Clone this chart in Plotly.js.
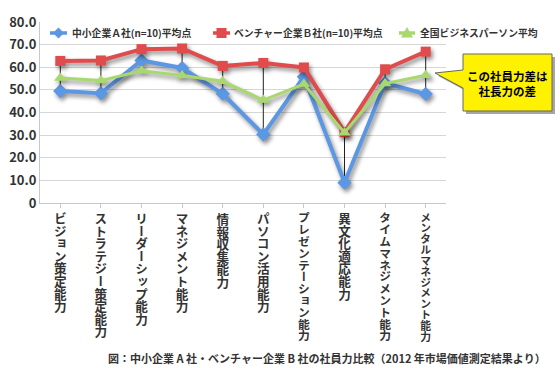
<!DOCTYPE html>
<html>
<head>
<meta charset="utf-8">
<script src="https://cdn.plot.ly/plotly-3.0.1.min.js"></script>
<style>
html,body{margin:0;padding:0;background:#fff;}
#chart{width:560px;height:368px;}
.js-plotly-plot .scatterlayer .trace.shadowed{filter:drop-shadow(2px 3px 2px rgba(0,0,0,0.45));}
</style>
</head>
<body>
<div id="chart"></div>
<script>
const categories = ["ビジョン策定能力","ストラテジー策定能力","リーダーシップ能力","マネジメント能力","情報収集能力","パソコン活用能力","プレゼンテーション能力","異文化適応能力","タイムマネジメント能力","メンタルマネジメント能力"];
const companyA = [49.5, 48.5, 63.0, 59.7, 48.3, 30.3, 55.8, 9.0, 53.0, 48.2];
const ventureB = [62.8, 63.0, 68.0, 68.3, 60.6, 61.9, 59.9, 31.3, 59.1, 66.9];
const national = [55.2, 54.1, 58.4, 56.4, 53.8, 45.5, 52.6, 31.1, 52.8, 56.5];
const seriesNames = ["中小企業Ａ社(n=10)平均点","ベンチャー企業Ｂ社(n=10)平均点","全国ビジネスパーソン平均"];
const yTickVals = [0,10,20,30,40,50,60,70,80];
const yTickText = ["0","10.0","20.0","30.0","40.0","50.0","60.0","70.0","80.0"];
const calloutText = "この社員力差は<br>社長力の差";
const captionText = "図：中小企業 A 社・ベンチャー企業 B 社の社員力比較（2012 年市場価値測定結果より）";

const COLORS = ['#5B97E2', '#E04B4B', '#A9D86F'];
const FONT = "'Noto Sans CJK JP', 'Noto Sans', sans-serif";
const idx = categories.map((c,i)=>i);

function px2x(p){ return (p-40)/406; }
function py2y(p){ return (203-p)/181; }
function pathFromPx(pts){
  return 'M ' + pts.map(p => px2x(p[0]).toFixed(4)+','+py2y(p[1]).toFixed(4)).join(' L ') + ' Z';
}

// high-low lines between A and B
const hlX = [], hlY = [];
idx.forEach(i => { hlX.push(i, i, null); hlY.push(ventureB[i], companyA[i], null); });

const traces = [
  {x: hlX, y: hlY, mode: 'lines', line: {color: '#222', width: 1}, showlegend: false, hoverinfo: 'skip'},
  {x: idx, y: companyA, name: seriesNames[0], mode: 'lines+markers',
   line: {color: COLORS[0], width: 4}, marker: {symbol: 'diamond', size: 11, color: COLORS[0]}},
  {x: idx, y: ventureB, name: seriesNames[1], mode: 'lines+markers',
   line: {color: COLORS[1], width: 4}, marker: {symbol: 'square', size: 10, color: COLORS[1]}},
  {x: idx, y: national, name: seriesNames[2], mode: 'lines+markers',
   line: {color: COLORS[2], width: 3}, marker: {symbol: 'triangle-up', size: 11, color: COLORS[2]}}
];

// manual legend (styling only)
const legendItems = [
  {x0: 50, x1: 67, cx: 58.5, tx: 70, sym: 'diamond'},
  {x0: 213, x1: 230, cx: 221.5, tx: 232, sym: 'square'},
  {x0: 399, x1: 415, cx: 407, tx: 418, sym: 'triangle'}
];
const LY = 33;
const shapes = [];
const annotations = [];
legendItems.forEach((it, k) => {
  shapes.push({type: 'line', xref: 'paper', yref: 'paper', x0: px2x(it.x0), x1: px2x(it.x1), y0: py2y(LY), y1: py2y(LY),
               line: {color: COLORS[k], width: 3.5}, layer: 'above'});
  let pts;
  if (it.sym === 'diamond') pts = [[it.cx, LY-5.5],[it.cx+5.5, LY],[it.cx, LY+5.5],[it.cx-5.5, LY]];
  else if (it.sym === 'square') pts = [[it.cx-5, LY-5],[it.cx+5, LY-5],[it.cx+5, LY+5],[it.cx-5, LY+5]];
  else pts = [[it.cx, LY-6],[it.cx+6, LY+4.5],[it.cx-6, LY+4.5]];
  shapes.push({type: 'path', xref: 'paper', yref: 'paper', path: pathFromPx(pts), fillcolor: COLORS[k], line: {width: 0}, layer: 'above'});
  annotations.push({xref: 'paper', yref: 'paper', x: px2x(it.tx), y: py2y(LY), xanchor: 'left', yanchor: 'middle',
                    text: seriesNames[k], showarrow: false,
                    font: {size: 9.8, family: FONT, color: '#333', weight: 'bold'}});
});

// callout
function calloutPath(dx, dy){
  const pts = [[463,54],[552,54],[552,111],[463,111],[463,88],[435,73],[463,70]];
  return pathFromPx(pts.map(p => [p[0]+dx, p[1]+dy]));
}
shapes.push({type: 'path', xref: 'paper', yref: 'paper', path: calloutPath(3, 3), fillcolor: 'rgba(0,0,0,0.35)', line: {width: 0}, layer: 'above'});
shapes.push({type: 'path', xref: 'paper', yref: 'paper', path: calloutPath(0, 0), fillcolor: '#FFF200', line: {color: '#666', width: 1}, layer: 'above'});
annotations.push({xref: 'paper', yref: 'paper', x: px2x(507.5), y: py2y(83), xanchor: 'center', yanchor: 'middle',
  text: calloutText, showarrow: false, align: 'center', font: {size: 11.5, family: FONT, color: '#000', weight: 'bold'}});

// caption
annotations.push({xref: 'paper', yref: 'paper', x: px2x(548), y: py2y(358), xanchor: 'right', yanchor: 'middle',
  text: captionText, showarrow: false, font: {size: 11, family: FONT, color: '#333', weight: 'bold'}});

// category labels (set in vertical writing mode after drawing)
const labelStart = annotations.length;
const labelSize = [];
categories.forEach((c, i) => {
  const n = Array.from(c).length;
  const size = Math.min(12.6, 130 / n);
  labelSize.push(size);
  annotations.push({xref: 'x', yref: 'paper', x: i, y: py2y(212), xanchor: 'center', yanchor: 'top',
    text: c, showarrow: false, align: 'center', borderpad: 0,
    font: {size: size, family: FONT, color: '#333', weight: 'bold'}});
});

const layout = {
  width: 560, height: 368,
  margin: {l: 40, r: 114, t: 22, b: 165},
  paper_bgcolor: '#fff', plot_bgcolor: '#fff',
  font: {family: FONT, color: '#333', weight: 'bold'},
  showlegend: false,
  xaxis: {range: [-0.5, 9.5], tickvals: idx, ticktext: idx.map(() => ''),
          showgrid: false, zeroline: false, showline: true, linecolor: '#c8c8c8', linewidth: 1,
          ticks: 'outside', tickson: 'boundaries', ticklen: 4, tickcolor: '#c8c8c8', fixedrange: true},
  yaxis: {range: [0, 80], tickvals: yTickVals, ticktext: yTickText,
          showgrid: true, gridcolor: '#d6d6d6', gridwidth: 1, zeroline: false,
          showline: true, linecolor: '#c8c8c8', linewidth: 1, ticks: '', ticklen: 0,
          tickfont: {size: 13, family: FONT, color: '#333', weight: 'bold'}, fixedrange: true},
  shapes: shapes,
  annotations: annotations
};

Plotly.newPlot('chart', traces, layout, {displayModeBar: false, staticPlot: true}).then(gd => {
  const tr = gd.querySelectorAll('.scatterlayer .trace');
  tr.forEach((t, i) => { if (i > 0) t.classList.add('shadowed'); });
  const root = gd.getBoundingClientRect();
  const xa = gd._fullLayout.xaxis;
  const top = 212;
  categories.forEach((c, i) => {
    const g = gd.querySelector('.annotation[data-index="' + (labelStart + i) + '"]');
    if (!g) return;
    const t = g.querySelector('text.annotation-text');
    if (!t) return;
    t.style.writingMode = 'vertical-rl';
    t.style.textAnchor = 'start';
    t.setAttribute('text-anchor', 'start');
    t.removeAttribute('transform');
    const b = t.getBoundingClientRect();
    const cx = gd._fullLayout._size.l + xa.l2p(i);
    const dx = cx - ((b.left - root.left) + b.width / 2);
    const dy = top - (b.top - root.top);
    t.setAttribute('transform', 'translate(' + dx.toFixed(2) + ',' + dy.toFixed(2) + ')');
  });
});
</script>
</body>
</html>
